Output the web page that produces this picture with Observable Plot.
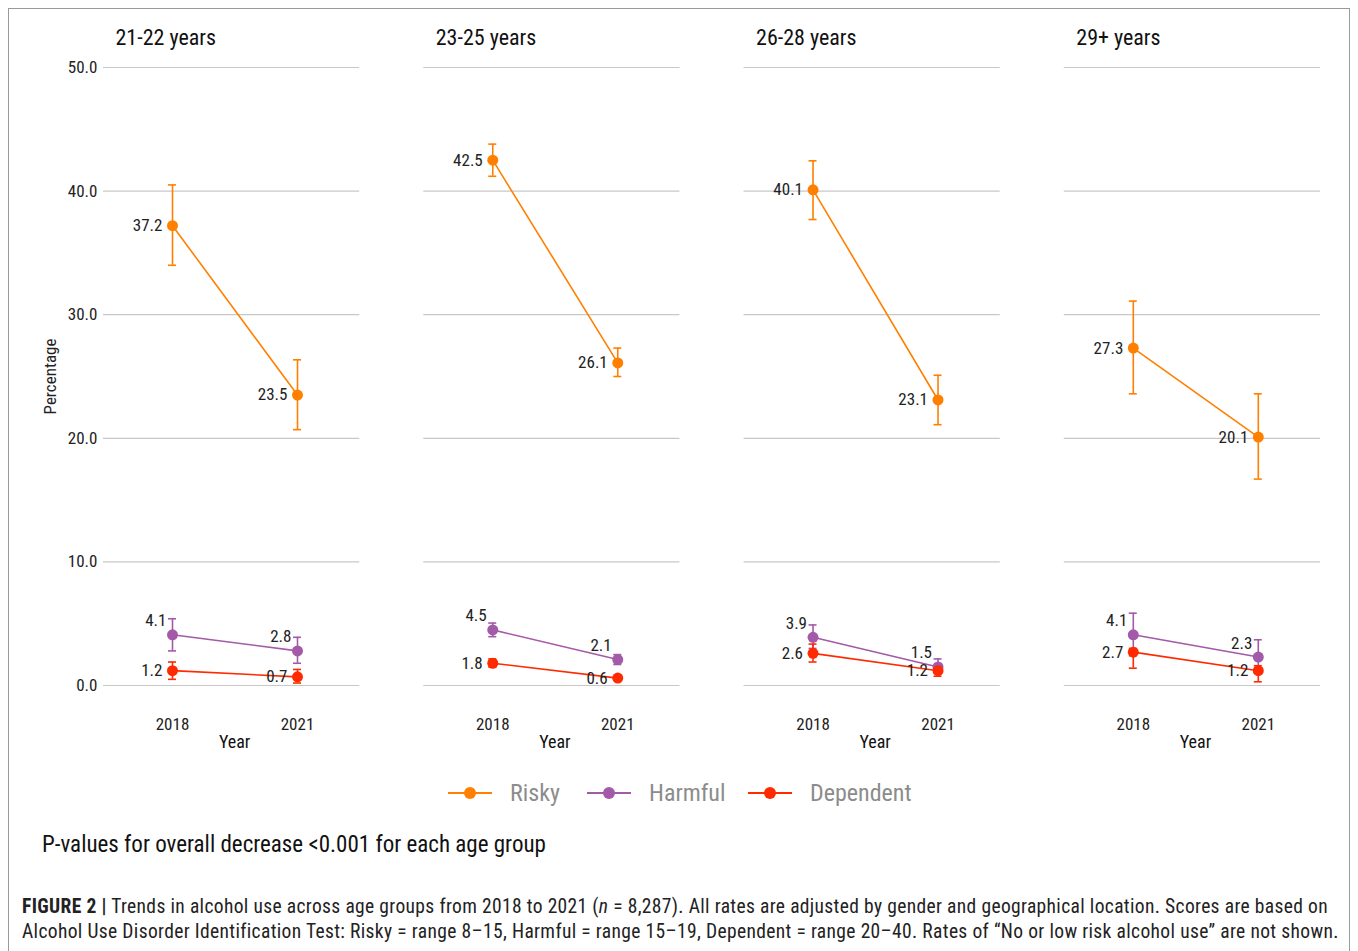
<!DOCTYPE html>
<html>
<head>
<meta charset="utf-8">
<script src="https://cdn.jsdelivr.net/npm/d3@7"></script>
<script src="https://cdn.jsdelivr.net/npm/@observablehq/plot@0.6"></script>
<style>
  html, body { margin: 0; padding: 0; background: #fff; }
  body { width: 1358px; height: 951px; position: relative; overflow: hidden;
         font-family: "Liberation Sans Narrow", "Roboto Condensed", "DejaVu Sans Condensed", "Liberation Sans", sans-serif; }
  #frame { position: absolute; left: 8px; top: 8px; width: 1342px; height: 1000px; border: 1px solid #9a9a9a; box-sizing: border-box; }
  #chart { position: absolute; left: 0; top: 0; }
  #legend { position: absolute; left: 0; top: 776px; width: 1358px; height: 34px; }
  #pvalue { position: absolute; left: 42px; top: 831px; font-size: 23px; color: #111; white-space: nowrap; }
  #caption { position: absolute; left: 22px; top: 894px; font-size: 19.5px; letter-spacing: 0.35px; line-height: 25px; color: #222; white-space: nowrap; }
  #caption b { font-weight: bold; }
</style>
</head>
<body>
<div id="frame"></div>
<div id="chart"></div>
<div id="legend"></div>
<div id="pvalue">P-values for overall decrease &lt;0.001 for each age group</div>
<div id="caption"><b>FIGURE 2 |</b> Trends in alcohol use across age groups from 2018 to 2021 (<i>n</i> = 8,287). All rates are adjusted by gender and geographical location. Scores are based on<br>Alcohol Use Disorder Identification Test: Risky = range 8–15, Harmful = range 15–19, Dependent = range 20–40. Rates of “No or low risk alcohol use” are not shown.</div>
<script>
const groups = ["21-22 years", "23-25 years", "26-28 years", "29+ years"];
const years = [2018, 2021];
const seriesNames = ["Risky", "Harmful", "Dependent"];
const seriesColors = ["#ff8000", "#a35aa8", "#ff2a00"];
const yTicks = [0, 10, 20, 30, 40, 50];

// values per group: [2018, 2021]
const risky      = [[37.2, 23.5], [42.5, 26.1], [40.1, 23.1], [27.3, 20.1]];
const riskyLo    = [[34.0, 20.7], [41.2, 25.0], [37.7, 21.1], [23.6, 16.7]];
const riskyHi    = [[40.5, 26.35], [43.8, 27.3], [42.45, 25.1], [31.1, 23.6]];
const harmful    = [[4.1, 2.8], [4.5, 2.1], [3.9, 1.5], [4.1, 2.3]];
const harmfulLo  = [[2.8, 1.8], [3.95, 1.7], [3.0, 1.0], [2.4, 1.0]];
const harmfulHi  = [[5.4, 3.9], [5.05, 2.5], [4.9, 2.15], [5.85, 3.7]];
const dependent  = [[1.2, 0.7], [1.8, 0.6], [2.6, 1.2], [2.7, 1.2]];
const dependentLo= [[0.5, 0.2], [1.5, 0.45], [1.9, 0.75], [1.4, 0.3]];
const dependentHi= [[1.9, 1.3], [2.15, 0.75], [3.35, 1.55], [3.0, 1.6]];

const seriesData = {
  Risky: [risky, riskyLo, riskyHi],
  Harmful: [harmful, harmfulLo, harmfulHi],
  Dependent: [dependent, dependentLo, dependentHi]
};

const rows = [];
for (const s of seriesNames) {
  const [v, lo, hi] = seriesData[s];
  groups.forEach((g, gi) => {
    years.forEach((yr, yi) => {
      rows.push({group: g, year: yr, series: s, value: v[gi][yi], lo: lo[gi][yi], hi: hi[gi][yi]});
    });
  });
}

const font = '"Liberation Sans Narrow", "Roboto Condensed", "DejaVu Sans Condensed", "Liberation Sans", sans-serif';

const chart = Plot.plot({
  width: 1358,
  height: 760,
  marginLeft: 103,
  marginRight: 38,
  marginTop: 67,
  marginBottom: 75,
  style: {fontFamily: font, fontSize: "17px", color: "#222", background: "transparent", overflow: "visible"},
  fx: {domain: groups, paddingInner: 0.2, paddingOuter: 0, axis: null, round: false},
  x: {type: "point", domain: years, insetLeft: 6, padding: 0.5},
  y: {domain: [0, 50]},
  color: {domain: seriesNames, range: seriesColors},
  marks: [
    Plot.gridY(yTicks, {stroke: "#c8c8c8", strokeOpacity: 1, strokeWidth: 1.2}),
    Plot.axisY(yTicks, {tickSize: 0, tickPadding: 6, tickFormat: d => d.toFixed(1), label: "Percentage",
      labelAnchor: "center", labelOffset: 60, labelArrow: "none", facetAnchor: "left", fontSize: 17}),
    Plot.axisX({tickSize: 0, tickPadding: 32, tickFormat: d => String(d), label: null, fontSize: 17}),
    Plot.text(groups, {fx: d => d, text: d => d, frameAnchor: "top-left", lineAnchor: "middle", dx: 12, dy: -30, fontSize: 22, fill: "#111"}),
    Plot.text(groups, {fx: d => d, text: () => "Year", frameAnchor: "bottom", lineAnchor: "middle", dx: 3, dy: 57, fontSize: 18, fill: "#111"}),
    Plot.line(rows, {fx: "group", x: "year", y: "value", z: "series", stroke: "series", strokeWidth: 1.6}),
    Plot.ruleX(rows, {fx: "group", x: "year", y1: "lo", y2: "hi", stroke: "series", strokeWidth: 1.6}),
    Plot.ruleY(rows, {fx: "group", x1: "year", x2: "year", y: "lo", stroke: "series", strokeWidth: 1.6, insetLeft: -4, insetRight: -4}),
    Plot.ruleY(rows, {fx: "group", x1: "year", x2: "year", y: "hi", stroke: "series", strokeWidth: 1.6, insetLeft: -4, insetRight: -4}),
    Plot.dot(rows, {fx: "group", x: "year", y: "value", fill: "series", r: 5.5}),
    Plot.text(rows.filter(d => d.series !== "Harmful"), {fx: "group", x: "year", y: "value", text: d => d.value.toFixed(1),
      textAnchor: "end", dx: -10, fontSize: 17, fill: "#222"}),
    Plot.text(rows.filter(d => d.series === "Harmful"), {fx: "group", x: "year", y: "value", text: d => d.value.toFixed(1),
      textAnchor: "end", dx: -6, dy: -14, fontSize: 17, fill: "#222"})
  ]
});
document.getElementById("chart").appendChild(chart);

// Legend
const legend = d3.select("#legend").append("svg").attr("width", 1358).attr("height", 34);
const legendX = [448, 587, 748];
seriesNames.forEach((s, i) => {
  const g = legend.append("g").attr("transform", `translate(${legendX[i]},17)`);
  g.append("line").attr("x1", 0).attr("x2", 44).attr("stroke", seriesColors[i]).attr("stroke-width", 2);
  g.append("circle").attr("cx", 22).attr("r", 6).attr("fill", seriesColors[i]);
  g.append("text").attr("x", 62).attr("dy", "0.35em").attr("fill", "#8c8c8c")
    .style("font-family", font).style("font-size", "24px").text(s);
});
</script>
</body>
</html>
